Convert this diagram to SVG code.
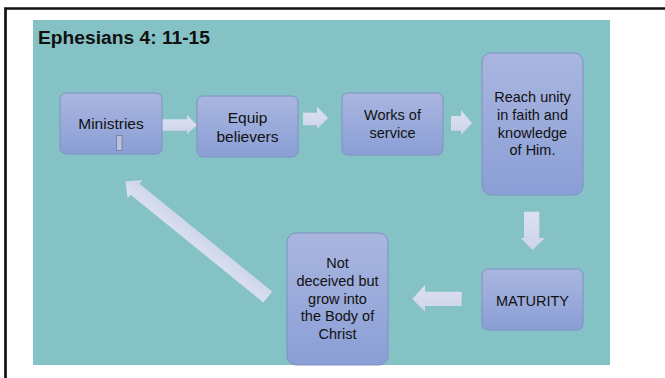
<svg xmlns="http://www.w3.org/2000/svg" width="665" height="378" viewBox="0 0 665 378">
  <defs>
    <linearGradient id="boxg" x1="0" y1="0" x2="0" y2="1">
      <stop offset="0" stop-color="#AAB6DF"/>
      <stop offset="1" stop-color="#8A9ED6"/>
    </linearGradient>
    <linearGradient id="arrg" x1="0" y1="0" x2="0" y2="1">
      <stop offset="0" stop-color="#DCE1F0"/>
      <stop offset="1" stop-color="#CDD4EA"/>
    </linearGradient>
    <style>
      .box { fill: url(#boxg); stroke: #8090C4; stroke-width: 1; }
      .arr { fill: url(#arrg); stroke: none; }
      .lbl { font-family: "Liberation Sans", Arial, sans-serif; font-size: 14.5px; fill: #111; text-anchor: middle; }
      .big { font-size: 15.5px; }
      .title { font-family: "Liberation Sans", Arial, sans-serif; font-size: 18px; font-weight: bold; fill: #111; }
    </style>
  </defs>

  <rect x="0" y="0" width="665" height="378" fill="#FFFFFF"/>
  <!-- outer frame -->
  <path d="M5.5,378 V8.5 H665" fill="none" stroke="#111" stroke-width="2.7"/>
  <!-- panel -->
  <rect x="33" y="20" width="577" height="345" fill="#85C2C5"/>
  <text class="title" x="38" y="44" textLength="172" lengthAdjust="spacingAndGlyphs">Ephesians 4: 11-15</text>

  <g id="connectors">
    <polygon class="arr" points="162,119.3 187,119.3 187,115 197,125 187,134 187,130.7 162,130.7"/>
    <polygon class="arr" points="303,112.7 317,112.7 317,106.7 328,118 317,129.3 317,125.3 303,125.3"/>
    <polygon class="arr" points="451,116 461,116 461,110 472,123 461,135 461,130.7 451,130.7"/>
    <polygon class="arr" points="524,211.7 539.3,211.7 539.3,238 545,238 532.5,250 520.7,238 524,238"/>
    <polygon class="arr" points="461.7,291.7 425,291.7 425,285 412.3,299 425,311.7 425,306 461.7,306"/>
    <polygon class="arr" transform="translate(267.8,297) rotate(219.07)" points="0,-7 171,-7 171,-11.8 183.3,0 171,11.8 171,7 0,7"/>
  </g>

  <g id="ministries">
    <rect class="box" x="60" y="93" width="102" height="61" rx="6"/>
    <text class="lbl big" x="111" y="129">Ministries</text>
    <rect x="116.5" y="135.5" width="5.5" height="15" fill="#B9C2E4" stroke="#6E7894" stroke-width="0.8"/>
  </g>

  <g id="equip">
    <rect class="box" x="197" y="96" width="101" height="61" rx="6"/>
    <text class="lbl big" x="247.5" y="123">Equip</text>
    <text class="lbl big" x="247.5" y="142">believers</text>
  </g>

  <g id="works">
    <rect class="box" x="342" y="93" width="101" height="62" rx="6"/>
    <text class="lbl" x="392.5" y="120">Works of</text>
    <text class="lbl" x="392.5" y="137.5">service</text>
  </g>

  <g id="reach">
    <rect class="box" x="482" y="53" width="101" height="142" rx="9"/>
    <text class="lbl" x="532.5" y="102">Reach unity</text>
    <text class="lbl" x="532.5" y="120">in faith and</text>
    <text class="lbl" x="532.5" y="137.5">knowledge</text>
    <text class="lbl" x="532.5" y="155">of Him.</text>
  </g>

  <g id="maturity">
    <rect class="box" x="482" y="269" width="101" height="61" rx="6"/>
    <text class="lbl" x="532.5" y="306">MATURITY</text>
  </g>

  <g id="notdeceived">
    <rect class="box" x="287" y="233" width="101" height="132" rx="9"/>
    <text class="lbl" x="337.5" y="268">Not</text>
    <text class="lbl" x="337.5" y="286">deceived but</text>
    <text class="lbl" x="337.5" y="303.5">grow into</text>
    <text class="lbl" x="337.5" y="321">the Body of</text>
    <text class="lbl" x="337.5" y="338.5">Christ</text>
  </g>
</svg>
